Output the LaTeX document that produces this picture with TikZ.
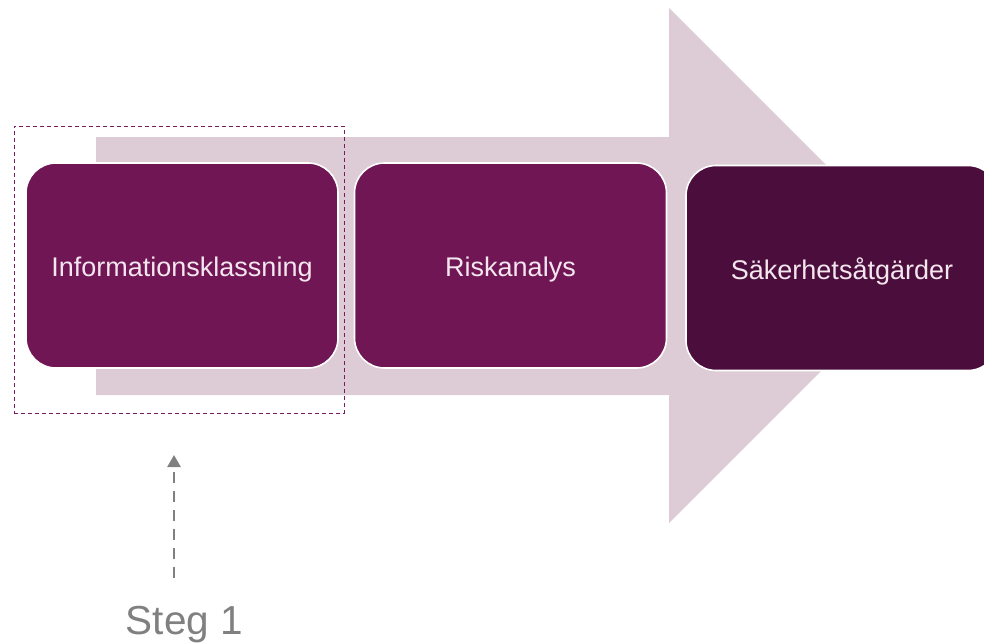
\documentclass[tikz,border=0pt]{standalone}
\usepackage{fontspec}
\setmainfont{Liberation Sans}
\usetikzlibrary{arrows.meta}
\definecolor{boxmid}{HTML}{701655}
\definecolor{boxdark}{HTML}{4B0E3C}
\definecolor{arrowbg}{HTML}{DDCCD6}
\definecolor{boxtext}{HTML}{F3E6EE}
\definecolor{stepgray}{HTML}{808080}
\definecolor{framepurple}{HTML}{7A1A60}
\tikzset{
  stagebox/.style={draw=white, line width=1.6pt, rounded corners=30pt,
    minimum width=312pt, minimum height=205pt, inner sep=0pt,
    text height=26pt, text depth=4pt,
    text=boxtext, font=\fontsize{27}{32}\selectfont},
  steplabel/.style={text=stepgray, font=\fontsize{40.5}{48}\selectfont, inner sep=0pt}
}
\begin{document}
\begin{tikzpicture}[x=1pt,y=-1pt]
\path[use as bounding box] (0,0) rectangle (984,643);
\clip (0,0) rectangle (984,643);
% big background arrow
\fill[arrowbg] (96,137) -- (669,137) -- (669,8) -- (926.5,265.5) -- (669,523) -- (669,395) -- (96,395) -- cycle;
% stage boxes
\node[stagebox, fill=boxmid] (b1) at (182,265.5) {Informationsklassning};
\node[stagebox, fill=boxmid] (b2) at (510.5,265.5) {Riskanalys};
\node[stagebox, fill=boxdark] (b3) at (842,268) {Säkerhetsåtgärder};
% dashed frame around step 1
\node[draw=framepurple, line width=0.8pt, dash pattern=on 4pt off 3pt,
  minimum width=330pt, minimum height=287pt, inner sep=0pt] (frame) at (179,269.5) {};
% step label and arrow
\node[steplabel, anchor=base] (steg) at (184.5,634) {Steg 1};
\coordinate (a0) at (174,578);
\coordinate (a1) at (174,455);
\draw[stepgray, line width=2.4pt, dash pattern=on 11pt off 8pt,
  -{Triangle[width=13pt,length=12pt]}] (a0) -- (a1);
\end{tikzpicture}
\end{document}
